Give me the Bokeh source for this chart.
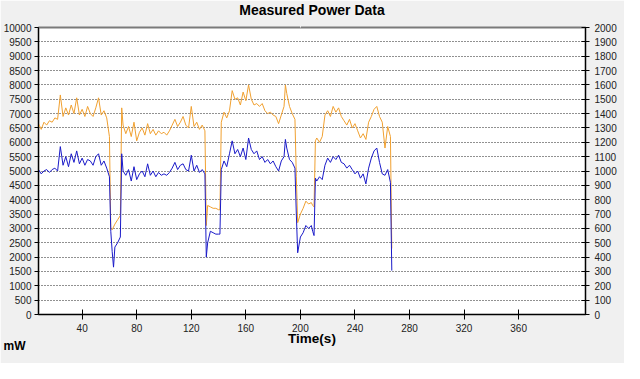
from bokeh.plotting import figure
from bokeh.models import LinearAxis, Range1d, FixedTicker, Title
from bokeh.embed import file_html
from bokeh.resources import INLINE

# ---- data ----
# time in seconds, power in mW (left axis), current in mA (right axis)
time_a = [8, 10, 12, 14, 16, 18, 20]
power_a = [6650, 6450, 6700, 6600, 6750, 6700, 6850]
current_a = [1010, 980, 1000, 1010, 990, 1010, 1020]

time_b = [22, 24, 26, 28, 30, 32, 34, 36, 38, 40, 42, 44, 46, 48, 50, 52, 54, 56, 58]
power_b = [6800, 7650, 6900, 7200, 6950, 7300, 7000, 7550, 6950, 7150, 6900, 7250,
           7000, 6900, 7200, 7550, 6950, 7100, 6850]
current_b = [1000, 1170, 1040, 1100, 1030, 1120, 1060, 1140, 1050, 1090, 1040, 1080,
             1070, 1040, 1100, 1120, 1040, 1070, 1020]

time_dip1 = [60, 61, 62, 63, 64, 66, 68]
power_dip1 = [6200, 3000, 2950, 3050, 3150, 3300, 3450]
current_dip1 = [960, 580, 440, 330, 470, 500, 540]

time_c = [69, 70, 72, 74, 76, 78, 80, 82, 84, 86, 88, 90, 92, 94, 96, 98, 100, 102,
          104, 106, 108, 110, 112, 114, 116, 118, 120, 122, 124, 126, 128, 130]
power_c = [7200, 6600, 6300, 6550, 6200, 6700, 6050, 6350, 6500, 6250, 6650, 6300,
           6450, 6250, 6400, 6300, 6350, 6250, 6400, 6600, 6800, 6550, 6700, 6900,
           6600, 6500, 7250, 6550, 6700, 6450, 6600, 6400]
current_c = [1120, 1000, 970, 1010, 930, 1030, 940, 980, 1000, 960, 1050, 970,
             1000, 960, 990, 970, 980, 970, 990, 1020, 1060, 1010, 1040, 1050,
             1010, 1000, 1110, 1000, 1040, 990, 1010, 980]

time_dip2 = [131, 132, 134, 136, 138, 140, 141]
power_dip2 = [3100, 3800, 3750, 3700, 3700, 3650, 3650]
current_dip2 = [400, 500, 580, 570, 560, 560, 560]

time_d = [142, 144, 146, 148, 150, 152, 154, 156, 158, 160, 162, 164, 166, 168, 170,
          172, 174, 176, 178, 180, 182, 184, 186, 188, 189, 190, 192, 194, 196]
power_d = [6700, 7050, 6850, 7100, 7800, 7500, 7550, 7300, 7750, 7450, 8000, 7500,
           7300, 7350, 7250, 7350, 7100, 7000, 7050, 6950, 6900, 6650, 6950, 7250,
           8000, 7700, 7250, 7000, 6800]
current_d = [1010, 1070, 1030, 1120, 1210, 1120, 1150, 1100, 1160, 1080, 1230, 1150,
             1120, 1140, 1080, 1100, 1060, 1080, 1050, 1070, 1030, 1000, 1070, 1100,
             1220, 1160, 1080, 1060, 1020]

time_dip3 = [197, 198, 200, 202, 204, 206, 208, 209, 210]
power_dip3 = [4800, 3200, 3500, 3700, 3950, 3850, 3900, 3800, 3750]
current_dip3 = [700, 430, 540, 570, 620, 600, 620, 580, 550]

time_e = [211, 212, 214, 216, 218, 220, 222, 224, 226, 228, 230, 232, 234, 236, 238,
          240, 242, 244, 246, 248, 250, 252, 254, 256, 258, 260, 262, 264, 266, 267]
power_e = [6050, 6150, 6000, 6200, 6950, 7100, 6900, 7250, 7050, 7200, 6900, 6750,
           6600, 6800, 6500, 6650, 6400, 6150, 6300, 6100, 6700, 6900, 7150, 7250,
           6900, 6700, 5800, 6550, 6200, 2300]
current_e = [950, 930, 960, 940, 1040, 1090, 1060, 1100, 1080, 1110, 1060, 1050,
             1020, 1040, 1010, 980, 1000, 950, 980, 910, 1020, 1090, 1140, 1160,
             1060, 980, 970, 1010, 920, 306]

time_s = time_a + time_b + time_dip1 + time_c + time_dip2 + time_d + time_dip3 + time_e
power_mw = power_a + power_b + power_dip1 + power_c + power_dip2 + power_d + power_dip3 + power_e
current_ma = (current_a + current_b + current_dip1 + current_c + current_dip2
              + current_d + current_dip3 + current_e)

x_ticks = [40, 80, 120, 160, 200, 240, 280, 320, 360]
left_ticks = [0, 500, 1000, 1500, 2000, 2500, 3000, 3500, 4000, 4500, 5000, 5500,
              6000, 6500, 7000, 7500, 8000, 8500, 9000, 9500, 10000]
right_ticks = [0, 100, 200, 300, 400, 500, 600, 700, 800, 900, 1000, 1100, 1200,
               1300, 1400, 1500, 1600, 1700, 1800, 1900, 2000]
chart_title = "Measured Power Data"
x_label = "Time(s)"
unit_label = "mW"

FONT = "Liberation Sans"
BG = "#f0f0f0"

p = figure(width=624, height=363, x_range=Range1d(8, 409), y_range=Range1d(0, 10000),
           output_backend="svg", toolbar_location=None, title=None,
           min_border_left=37, min_border_right=39, min_border_top=27, min_border_bottom=49)

p.border_fill_color = BG
p.background_fill_color = "white"
p.outline_line_color = "#7a7a7a"
p.outline_line_width = 2

# x axis (bottom)
xa = p.below[0]
xa.ticker = FixedTicker(ticks=x_ticks)
xa.minor_tick_line_color = None
xa.major_tick_in = 5
xa.major_tick_out = 5
xa.major_label_standoff = 4
xa.major_label_text_font = FONT
xa.major_label_text_font_size = "10px"
xa.major_label_text_color = "#222222"
xa.axis_line_color = "black"
xa.major_tick_line_color = "black"
xa.axis_label = x_label
xa.axis_label_text_font = FONT
xa.axis_label_text_font_size = "13.5px"
xa.axis_label_text_font_style = "bold"
xa.axis_label_text_color = "black"
xa.axis_label_standoff = -4

# left axis
ya = p.left[0]
ya.ticker = FixedTicker(ticks=left_ticks)
ya.minor_tick_line_color = None
ya.major_tick_in = 0
ya.major_tick_out = 4
ya.major_label_standoff = 3
ya.major_label_text_font = FONT
ya.major_label_text_font_size = "10px"
ya.major_label_text_color = "#222222"
ya.axis_line_color = "black"
ya.major_tick_line_color = "black"

# right axis
p.extra_y_ranges = {"ma": Range1d(0, 2000)}
ra = LinearAxis(y_range_name="ma", ticker=FixedTicker(ticks=right_ticks))
ra.minor_tick_line_color = None
ra.major_tick_in = 4
ra.major_tick_out = 4
ra.major_label_standoff = 5
ra.major_label_text_font = FONT
ra.major_label_text_font_size = "10px"
ra.major_label_text_color = "#222222"
ra.axis_line_color = "black"
ra.major_tick_line_color = "black"
p.add_layout(ra, "right")

# an invisible axis right above the frame acts as a spacer; the title sits above it
spacer = LinearAxis(ticker=FixedTicker(ticks=[200]), axis_line_color=None,
                    major_tick_line_color=BG, minor_tick_line_color=None,
                    major_tick_in=0, major_tick_out=12, major_label_standoff=0,
                    major_label_overrides={200: ""}, major_label_text_font_size="0px")
p.add_layout(spacer, "above")
main_title = Title(text=chart_title, align="center", text_font=FONT,
                   text_font_size="14px", text_font_style="bold", text_color="black",
                   standoff=-4)
p.add_layout(main_title, "above")

# unit label, bottom-left corner
unit = Title(text=unit_label, align="left", offset=-35, vertical_align="top",
             standoff=-20, text_font=FONT, text_font_size="12px",
             text_font_style="bold", text_color="black")
p.add_layout(unit, "below")

# grid
p.xgrid.visible = False
p.ygrid.ticker = FixedTicker(ticks=left_ticks)
p.ygrid.grid_line_color = "#222222"
p.ygrid.grid_line_dash = "1 2"
p.ygrid.grid_line_width = 1

# series
p.line(time_s, power_mw, line_color="#f0a030", line_width=1)
p.line(time_s, current_ma, line_color="#1a1ac8", line_width=1, y_range_name="ma")

open("out.html", "w").write(file_html(p, INLINE))
